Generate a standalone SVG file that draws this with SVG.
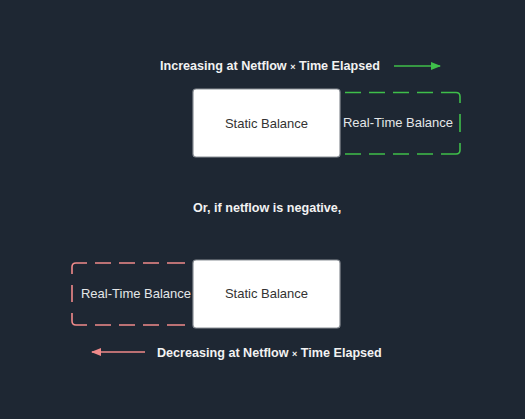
<svg xmlns="http://www.w3.org/2000/svg" width="525" height="419" viewBox="0 0 525 419">
<defs>
<style>
.box{fill:#ffffff;stroke:#8a8f96;stroke-width:1.2}
.lbl{font-family:"Liberation Sans",Arial,sans-serif;font-size:13px;text-anchor:middle;dominant-baseline:central}
.dark{fill:#333333}
.light{fill:#e4e6e8}
.hdr{font-family:"Liberation Sans",Arial,sans-serif;font-size:12.6px;font-weight:bold;fill:#f2f2f2}
.times{font-size:9px}
.gdash{fill:none;stroke:#3fbf4a;stroke-width:1.6}
.rdash{fill:none;stroke:#f08a8a;stroke-width:1.6}
</style>
<marker id="ag" markerWidth="10" markerHeight="8" refX="9" refY="4" orient="auto" markerUnits="userSpaceOnUse"><path d="M0,0 L10,4 L0,8 z" fill="#3fbf4a"/></marker>
<marker id="ar" markerWidth="10" markerHeight="8" refX="9" refY="4" orient="auto" markerUnits="userSpaceOnUse"><path d="M0,0 L10,4 L0,8 z" fill="#f08a8a"/></marker>
</defs>
<rect x="0" y="0" width="525" height="419" fill="#1e2733"/>
<g id="title-increasing"><text class="hdr" x="160" y="70">Increasing at Netflow <tspan class="times">×</tspan> Time Elapsed</text></g>
<g id="realtime-top">
<path class="gdash" d="M345,92.5 H361 M369,92.5 H385 M393,92.5 H409 M417,92.5 H433 M441,92.5 H456 Q460,92.5 460,96.5 V103 M460,114 V132 M460,143 V150 Q460,154 456,154 H441 M433,154 H417 M409,154 H393 M385,154 H369 M361,154 H345"/>
<text class="lbl light" x="398" y="122">Real-Time Balance</text>
</g>
<g id="static-top">
<rect class="box" x="193" y="89" width="147" height="68" rx="3"/>
<text class="lbl dark" x="266.5" y="123">Static Balance</text>
</g>
<g id="subtitle"><text class="hdr" x="193" y="212">Or, if netflow is negative,</text></g>
<g id="realtime-bottom">
<path class="rdash" d="M185,263 H167 M159,263 H143 M135,263 H119 M111,263 H95 M87,263 H76 Q72,263 72,267 V274 M72,285 V302 M72,313 V321 Q72,325 76,325 H87 M95,325 H111 M119,325 H135 M143,325 H159 M167,325 H185"/>
<text class="lbl light" x="136" y="293">Real-Time Balance</text>
</g>
<g id="static-bottom">
<rect class="box" x="193" y="260" width="147" height="68" rx="3"/>
<text class="lbl dark" x="266.5" y="293">Static Balance</text>
</g>
<g id="title-decreasing"><text class="hdr" x="157" y="357">Decreasing at Netflow <tspan class="times">×</tspan> Time Elapsed</text></g>
<g id="connectors">
<line x1="394" y1="66" x2="440" y2="66" stroke="#3fbf4a" stroke-width="1.4" marker-end="url(#ag)"/>
<line x1="145" y1="352" x2="92" y2="352" stroke="#f08a8a" stroke-width="1.4" marker-end="url(#ar)"/>
</g>
</svg>
